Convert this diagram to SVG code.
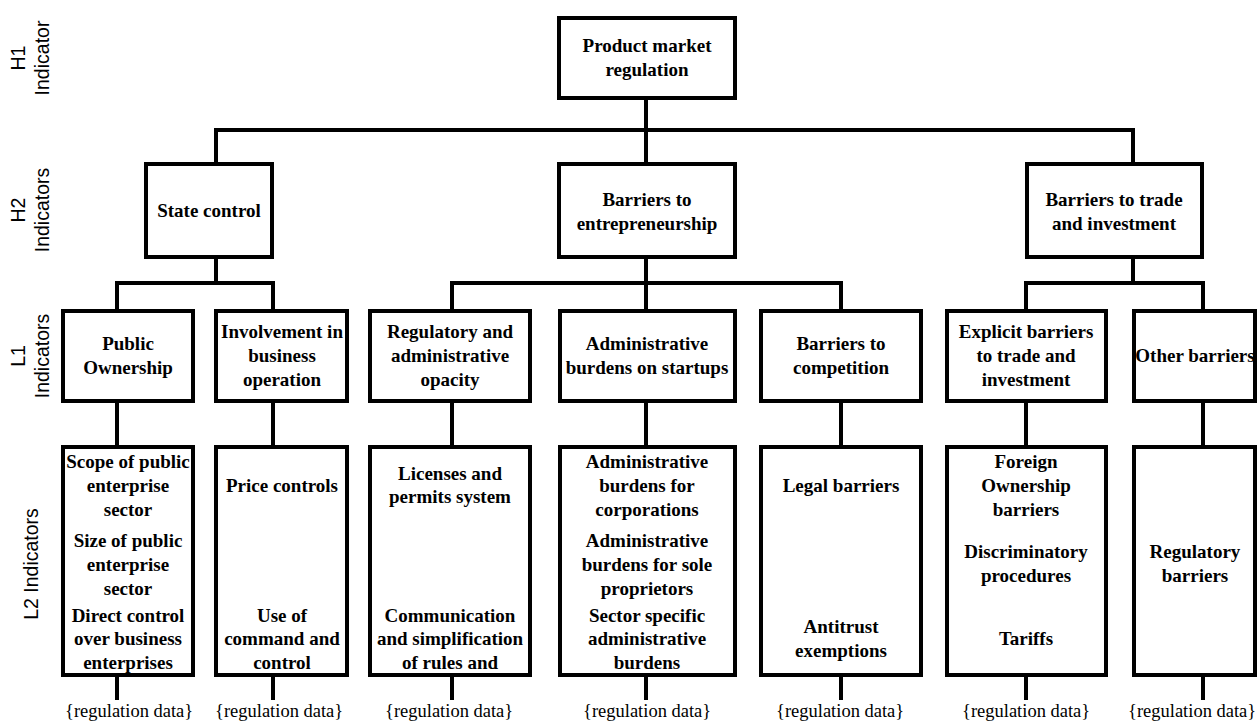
<svg xmlns="http://www.w3.org/2000/svg" width="1258" height="722" viewBox="0 0 1258 722">
<style>
.box{fill:#fff;stroke:#000;stroke-width:4}
.t{font-family:"Liberation Serif","Times New Roman",serif;font-weight:bold;font-size:19px;text-anchor:middle;fill:#000}
.d{font-family:"Liberation Serif","Times New Roman",serif;font-size:18.5px;fill:#000}
.side{font-family:"Liberation Sans",Arial,sans-serif;font-size:19.5px;text-anchor:middle;fill:#000}
.c{fill:none;stroke:#000;stroke-width:4;stroke-linejoin:miter}
</style>
<rect width="1258" height="722" fill="#fff"/>
<g id="level-labels">
<text class="side" transform="translate(25,58) rotate(-90)">H1</text>
<text class="side" transform="translate(49,58) rotate(-90)">Indicator</text>
<text class="side" transform="translate(25,210) rotate(-90)">H2</text>
<text class="side" transform="translate(49,210) rotate(-90)">Indicators</text>
<text class="side" transform="translate(25,356) rotate(-90)">L1</text>
<text class="side" transform="translate(49,356) rotate(-90)">Indicators</text>
<text class="side" transform="translate(38,564) rotate(-90)">L2 Indicators</text>
</g>
<g id="connectors">
<path class="c" d="M646,100 V162"/>
<path class="c" d="M216,162 V130 H1133 V162"/>
<path class="c" d="M216,259 V283"/>
<path class="c" d="M117,309 V283 H273 V309"/>
<path class="c" d="M646,259 V309"/>
<path class="c" d="M452,309 V283 H841 V309"/>
<path class="c" d="M1133,259 V283"/>
<path class="c" d="M1026,309 V283 H1203 V309"/>
<path class="c" d="M117,403 V445 M273,403 V445 M452,403 V445 M646,403 V445 M841,403 V445 M1026,403 V445 M1203,403 V445"/>
<path class="c" d="M117,677 V700 M273,677 V700 M452,677 V700 M646,677 V700 M841,677 V700 M1026,677 V700 M1203,677 V700"/>
</g>
<g id="h1-pmr">
<rect class="box" x="559" y="18" width="176" height="80"/>
<text class="t" x="647" y="52">Product market</text>
<text class="t" x="647" y="76">regulation</text>
</g>
<g id="h2-state-control">
<rect class="box" x="146" y="164" width="126" height="93"/>
<text class="t" x="209" y="217">State control</text>
</g>
<g id="h2-barriers-entrepreneurship">
<rect class="box" x="559" y="164" width="176" height="93"/>
<text class="t" x="647" y="206">Barriers to</text>
<text class="t" x="647" y="230">entrepreneurship</text>
</g>
<g id="h2-barriers-trade">
<rect class="box" x="1027" y="164" width="175" height="93"/>
<text class="t" x="1114" y="206">Barriers to trade</text>
<text class="t" x="1114" y="230">and investment</text>
</g>
<g id="l1-public-ownership">
<rect class="box" x="63" y="311" width="130" height="90"/>
<text class="t" x="128" y="350">Public</text>
<text class="t" x="128" y="374">Ownership</text>
</g>
<g id="l1-involvement">
<rect class="box" x="216" y="311" width="131" height="90"/>
<text class="t" x="282" y="338">Involvement in</text>
<text class="t" x="282" y="362">business</text>
<text class="t" x="282" y="386">operation</text>
</g>
<g id="l1-opacity">
<rect class="box" x="370" y="311" width="160" height="90"/>
<text class="t" x="450" y="338">Regulatory and</text>
<text class="t" x="450" y="362">administrative</text>
<text class="t" x="450" y="386">opacity</text>
</g>
<g id="l1-admin-burdens">
<rect class="box" x="560" y="311" width="175" height="90"/>
<text class="t" x="647" y="350">Administrative</text>
<text class="t" x="647" y="374">burdens on startups</text>
</g>
<g id="l1-barriers-competition">
<rect class="box" x="761" y="311" width="160" height="90"/>
<text class="t" x="841" y="350">Barriers to</text>
<text class="t" x="841" y="374">competition</text>
</g>
<g id="l1-explicit-barriers">
<rect class="box" x="947" y="311" width="159" height="90"/>
<text class="t" x="1026" y="338">Explicit barriers</text>
<text class="t" x="1026" y="362">to trade and</text>
<text class="t" x="1026" y="386">investment</text>
</g>
<g id="l1-other-barriers">
<rect class="box" x="1134" y="311" width="121" height="90"/>
<text class="t" x="1195" y="362">Other barriers</text>
</g>
<g id="l2-public-ownership">
<rect class="box" x="63" y="447" width="130" height="228"/>
<text class="t" x="128" y="468">Scope of public</text>
<text class="t" x="128" y="492">enterprise</text>
<text class="t" x="128" y="516">sector</text>
<text class="t" x="128" y="547">Size of public</text>
<text class="t" x="128" y="571">enterprise</text>
<text class="t" x="128" y="595">sector</text>
<text class="t" x="128" y="622">Direct control</text>
<text class="t" x="128" y="645">over business</text>
<text class="t" x="128" y="669">enterprises</text>
</g>
<g id="l2-involvement">
<rect class="box" x="216" y="447" width="131" height="228"/>
<text class="t" x="282" y="492">Price controls</text>
<text class="t" x="282" y="622">Use of</text>
<text class="t" x="282" y="645">command and</text>
<text class="t" x="282" y="669">control</text>
</g>
<g id="l2-opacity">
<rect class="box" x="370" y="447" width="160" height="228"/>
<text class="t" x="450" y="480">Licenses and</text>
<text class="t" x="450" y="503">permits system</text>
<text class="t" x="450" y="622">Communication</text>
<text class="t" x="450" y="645">and simplification</text>
<text class="t" x="450" y="669">of rules and</text>
</g>
<g id="l2-admin-burdens">
<rect class="box" x="560" y="447" width="175" height="228"/>
<text class="t" x="647" y="468">Administrative</text>
<text class="t" x="647" y="492">burdens for</text>
<text class="t" x="647" y="516">corporations</text>
<text class="t" x="647" y="547">Administrative</text>
<text class="t" x="647" y="571">burdens for sole</text>
<text class="t" x="647" y="595">proprietors</text>
<text class="t" x="647" y="622">Sector specific</text>
<text class="t" x="647" y="645">administrative</text>
<text class="t" x="647" y="669">burdens</text>
</g>
<g id="l2-barriers-competition">
<rect class="box" x="761" y="447" width="160" height="228"/>
<text class="t" x="841" y="492">Legal barriers</text>
<text class="t" x="841" y="633">Antitrust</text>
<text class="t" x="841" y="657">exemptions</text>
</g>
<g id="l2-explicit-barriers">
<rect class="box" x="947" y="447" width="159" height="228"/>
<text class="t" x="1026" y="468">Foreign</text>
<text class="t" x="1026" y="492">Ownership</text>
<text class="t" x="1026" y="516">barriers</text>
<text class="t" x="1026" y="558">Discriminatory</text>
<text class="t" x="1026" y="582">procedures</text>
<text class="t" x="1026" y="645">Tariffs</text>
</g>
<g id="l2-other-barriers">
<rect class="box" x="1134" y="447" width="121" height="228"/>
<text class="t" x="1195" y="558">Regulatory</text>
<text class="t" x="1195" y="582">barriers</text>
</g>
<g id="data-labels">
<text class="d" x="65" y="717">{regulation data}</text>
<text class="d" x="215" y="717">{regulation data}</text>
<text class="d" x="385" y="717">{regulation data}</text>
<text class="d" x="583" y="717">{regulation data}</text>
<text class="d" x="776" y="717">{regulation data}</text>
<text class="d" x="962" y="717">{regulation data}</text>
<text class="d" x="1128" y="717">{regulation data}</text>
</g>
</svg>
